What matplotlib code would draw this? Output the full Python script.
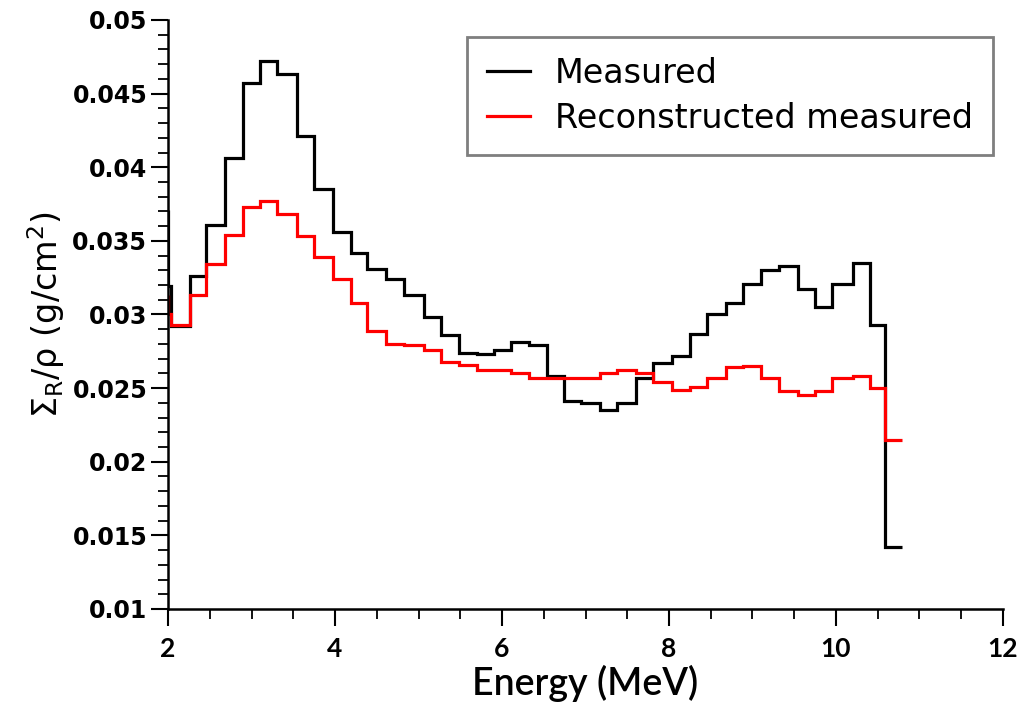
import numpy as np
import matplotlib
matplotlib.use("Agg")
import matplotlib.pyplot as plt
from matplotlib.ticker import MultipleLocator

## Data
# bin edges in MeV (first bin is the narrow one right at 2 MeV)
energy_edges = [2.00, 2.04, 2.26, 2.46, 2.68, 2.90, 3.10, 3.31, 3.54, 3.75,
                3.97, 4.19, 4.38, 4.61, 4.83, 5.06, 5.27, 5.48, 5.70, 5.90,
                6.11, 6.32, 6.54, 6.74, 6.95, 7.17, 7.38, 7.61, 7.81, 8.03,
                8.25, 8.45, 8.68, 8.89, 9.10, 9.32, 9.54, 9.75, 9.95, 10.20,
                10.41, 10.59, 10.79]

# value at the very first point (x = 2 MeV)
measured_start = 0.0371
reconstructed_start = 0.0313

measured = [0.0319, 0.0292, 0.0326, 0.0361, 0.0406, 0.0457, 0.0472, 0.0463, 0.0421, 0.0385,
            0.0356, 0.0342, 0.0331, 0.0324, 0.0313, 0.0298, 0.0286, 0.0274, 0.0273, 0.0276,
            0.0281, 0.0279, 0.0258, 0.0241, 0.0240, 0.0235, 0.0240, 0.0257, 0.0267, 0.0272,
            0.0287, 0.0300, 0.0308, 0.0321, 0.0330, 0.0333, 0.0317, 0.0305, 0.0321, 0.0335,
            0.0293, 0.0142]

reconstructed = [0.0300, 0.0293, 0.0313, 0.0334, 0.0354, 0.0373, 0.0377, 0.0368, 0.0353, 0.0339,
                 0.0324, 0.0308, 0.0289, 0.0280, 0.0279, 0.0276, 0.0268, 0.0266, 0.0262, 0.0262,
                 0.0260, 0.0257, 0.0257, 0.0257, 0.0257, 0.0260, 0.0262, 0.0260, 0.0254, 0.0249,
                 0.0251, 0.0257, 0.0264, 0.0265, 0.0257, 0.0248, 0.0245, 0.0248, 0.0257, 0.0258,
                 0.0250, 0.0215]

labels = ["Measured", "Reconstructed measured"]

## Plot
fig = plt.figure(figsize=(10.22, 7.11), dpi=100)
ax = fig.add_axes([0.1644, 0.1435, 0.817, 0.8284])

# zero-width first bin gives the vertical drop at 2 MeV
edges = np.concatenate([[energy_edges[0]], energy_edges])
ax.stairs([measured_start] + measured, edges, baseline=None,
          color="black", linewidth=2.3, label=labels[0])
ax.stairs([reconstructed_start] + reconstructed, edges, baseline=None,
          color="#ff0000", linewidth=2.3, label=labels[1])

ax.set_xlim(2, 12)
ax.set_ylim(0.01, 0.05)
ax.xaxis.set_major_locator(MultipleLocator(2))
ax.xaxis.set_minor_locator(MultipleLocator(0.5))
ax.yaxis.set_major_locator(MultipleLocator(0.005))
ax.yaxis.set_minor_locator(MultipleLocator(0.001))
ax.yaxis.set_major_formatter(plt.FuncFormatter(lambda v, p: ("%.3f" % v).rstrip("0")))

for side in ["top", "right"]:
    ax.spines[side].set_visible(False)
for side in ["left", "bottom"]:
    ax.spines[side].set_linewidth(1.8)

ax.tick_params(which="major", direction="out", length=12, width=1.5)
ax.tick_params(which="minor", direction="out", length=7, width=1.3)
ax.tick_params(axis="y", which="major", pad=3)
ax.tick_params(axis="x", which="major", pad=8)

for t in ax.get_yticklabels():
    t.set_fontfamily("DejaVu Sans")
    t.set_fontweight("bold")
    t.set_fontsize(17)
for t in ax.get_xticklabels():
    t.set_fontfamily("Lato")
    t.set_fontweight("bold")
    t.set_fontsize(19)

ax.set_xlabel("Energy (MeV)", fontfamily="Lato", fontweight="semibold", fontsize=27, labelpad=3)
ax.set_ylabel(r"$\mathregular{\Sigma_R/\rho\ (g/cm^2)}$",
              fontfamily="DejaVu Sans", fontsize=24, labelpad=4)

leg = ax.legend(loc="upper right", bbox_to_anchor=(0.988, 0.971), borderaxespad=0,
                fancybox=False, framealpha=1, edgecolor="#7f7f7f",
                prop={"family": "DejaVu Sans", "size": 24},
                handlelength=1.3, handletextpad=0.75, labelspacing=0.35,
                borderpad=0.6)
leg.get_frame().set_linewidth(2)

fig.savefig("out.png", dpi=100)
